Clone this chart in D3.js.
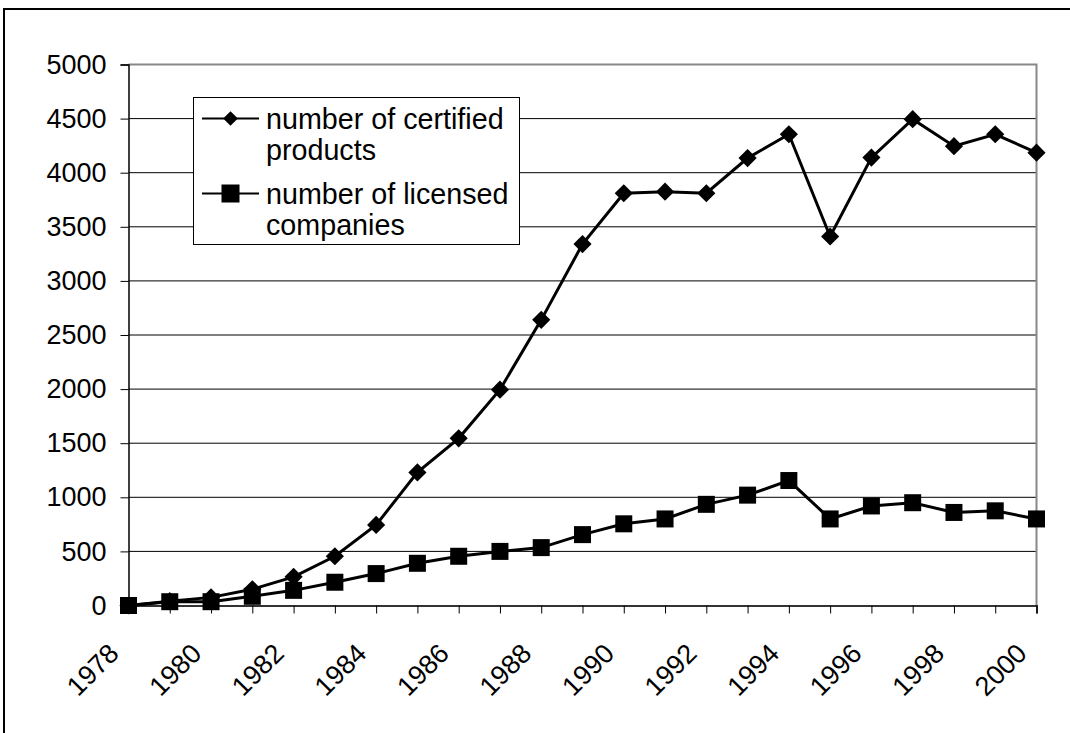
<!DOCTYPE html>
<html>
<head>
<meta charset="utf-8">
<script src="https://cdn.jsdelivr.net/npm/d3@7"></script>
<style>
  body { margin: 0; background: #fff; }
  svg { display: block; font-family: "Liberation Sans", Arial, sans-serif; }
</style>
</head>
<body>
<svg id="chart" width="1070" height="733"></svg>
<script>
// data
const years = d3.range(1978, 2001);
const products = [0, 40, 75, 150, 265, 455, 745, 1230, 1545, 1995, 2640, 3340, 3810, 3825, 3810, 4135, 4355, 3410, 4140, 4495, 4245, 4355, 4185];
const companies = [0, 35, 35, 85, 140, 215, 295, 390, 455, 500, 535, 655, 755, 800, 935, 1020, 1155, 800, 920, 950, 860, 875, 800];
const yTicks = d3.range(0, 5001, 500);
const xLabels = years.filter(y => y % 2 === 0);

const svg = d3.select('#chart');

const plotL = 128.5, plotR = 1036.5, plotT = 64.5, plotB = 605.5;

const x = d3.scaleLinear().domain([1978, 2000]).range([plotL, plotR]);
const y = d3.scaleLinear().domain([0, 5000]).range([plotB, plotT]);

// outer frame (runs past right / bottom edge)
svg.append('rect')
  .attr('x', 4).attr('y', 9)
  .attr('width', 1100).attr('height', 800)
  .attr('fill', 'none').attr('stroke', '#000').attr('stroke-width', 2);

// gridlines
svg.append('g')
  .selectAll('line')
  .data(yTicks.filter(d => d > 0 && d < 5000))
  .enter()
  .append('line')
  .attr('x1', plotL).attr('x2', plotR)
  .attr('y1', d => y(d)).attr('y2', d => y(d))
  .attr('stroke', '#000').attr('stroke-width', 1);

// plot border top / right (grey)
svg.append('path')
  .attr('d', `M${plotL},${plotT}H${plotR}V${plotB}`)
  .attr('fill', 'none').attr('stroke', '#888').attr('stroke-width', 2);

// y axis
const yAxis = d3.axisLeft(y).tickValues(yTicks).tickSize(8).tickPadding(14).tickFormat(d3.format('d'));
svg.append('g')
  .attr('transform', `translate(${plotL},0)`)
  .call(yAxis)
  .call(g => g.select('.domain').attr('stroke', '#000').attr('stroke-width', 1.5))
  .call(g => g.selectAll('.tick line').attr('stroke', '#000'))
  .call(g => g.selectAll('text')
    .attr('font-size', 27)
    .attr('font-family', '"Liberation Sans", Arial, sans-serif')
    .attr('fill', '#000'));

// x axis
const xAxis = d3.axisBottom(x).tickValues(years).tickSize(8).tickFormat('');
svg.append('g')
  .attr('transform', `translate(0,${plotB})`)
  .call(xAxis)
  .call(g => g.select('.domain').attr('stroke', '#333').attr('stroke-width', 2))
  .call(g => g.selectAll('.tick line').attr('stroke', '#000'));

svg.append('g')
  .selectAll('text')
  .data(xLabels)
  .enter()
  .append('text')
  .attr('transform', d => `translate(${x(d) - 8},655) rotate(-45)`)
  .attr('text-anchor', 'end')
  .attr('font-size', 27)
  .text(d => d);

// series
const line = d3.line()
  .x((d, i) => x(years[i]))
  .y(d => y(d));

svg.append('path')
  .datum(companies)
  .attr('d', line)
  .attr('fill', 'none').attr('stroke', '#000').attr('stroke-width', 3);

svg.append('path')
  .datum(products)
  .attr('d', line)
  .attr('fill', 'none').attr('stroke', '#000').attr('stroke-width', 3);

const diamond = d3.symbol().type(d3.symbolSquare).size(165);
const square = d3.symbol().type(d3.symbolSquare).size(289);

svg.append('g')
  .selectAll('path')
  .data(products)
  .enter()
  .append('path')
  .attr('d', diamond)
  .attr('transform', (d, i) => `translate(${x(years[i])},${y(d)}) rotate(45)`)
  .attr('fill', '#000');

svg.append('g')
  .selectAll('path')
  .data(companies)
  .enter()
  .append('path')
  .attr('d', square)
  .attr('transform', (d, i) => `translate(${x(years[i])},${y(d)})`)
  .attr('fill', '#000');

// legend
const legend = svg.append('g');
legend.append('rect')
  .attr('x', 193.5).attr('y', 97.5)
  .attr('width', 326).attr('height', 147)
  .attr('fill', '#fff').attr('stroke', '#000').attr('stroke-width', 1);

const legendRows = [
  { lines: ['number of certified', 'products'], size: 108, rot: 45, cy: 118.5 },
  { lines: ['number of licensed', 'companies'], size: 324, rot: 0, cy: 193.5 }
];

legendRows.forEach(r => {
  legend.append('line')
    .attr('x1', 202).attr('x2', 259)
    .attr('y1', r.cy).attr('y2', r.cy)
    .attr('stroke', '#000').attr('stroke-width', 2);
  legend.append('path')
    .attr('d', d3.symbol().type(d3.symbolSquare).size(r.size)())
    .attr('transform', `translate(230.5,${r.cy}) rotate(${r.rot})`)
    .attr('fill', '#000');
  legend.append('text')
    .attr('x', 266)
    .attr('y', r.cy + 10.5)
    .attr('font-size', 28.7)
    .selectAll('tspan')
    .data(r.lines)
    .enter()
    .append('tspan')
    .attr('x', 266)
    .attr('dy', (d, i) => i === 0 ? 0 : 31)
    .text(d => d);
});
</script>
</body>
</html>
